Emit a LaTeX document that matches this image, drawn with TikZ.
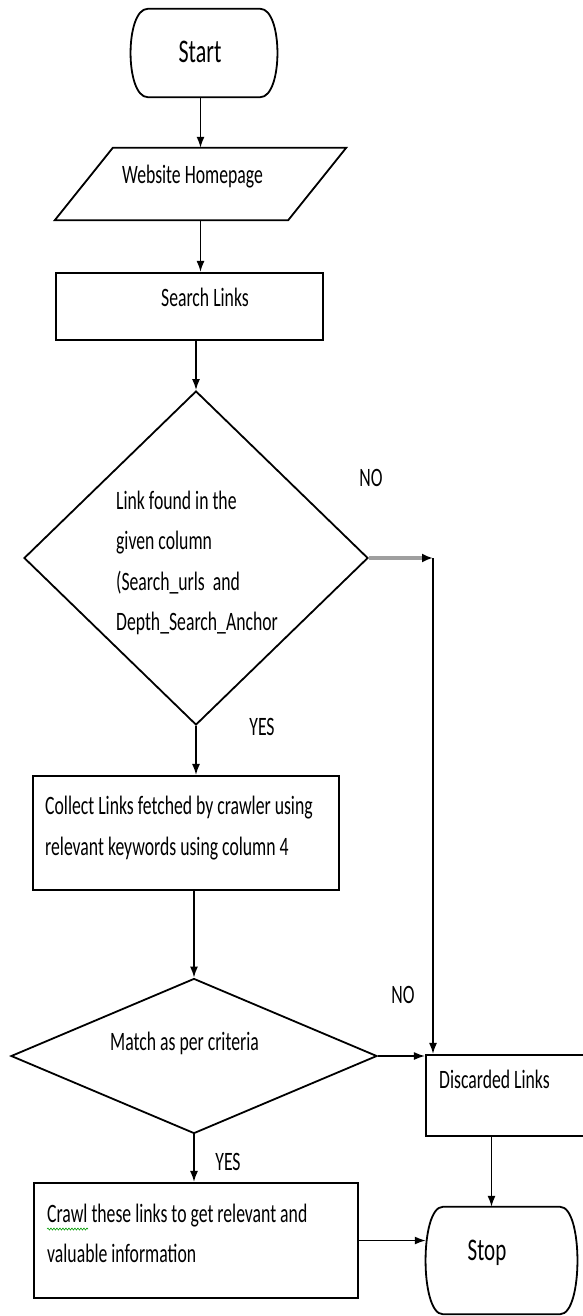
\documentclass[tikz,border=0pt]{standalone}
\usepackage{fontspec}
\setmainfont{Carlito}
\usetikzlibrary{shapes.geometric,arrows.meta,decorations.pathmorphing}
\newcommand{\stretchtxt}[1]{\scalebox{1}[1.5]{#1}}

\begin{document}
\begin{tikzpicture}[x=1pt,y=-1pt,
    holder/.style={inner sep=0pt},
    boxshape/.style={draw,line width=2.1pt,inner sep=0pt},
    decision/.style={diamond,draw,line width=1.8pt,inner sep=0pt},
    outline/.style={line width=1.8pt},
    txt/.style={inner sep=0pt,font=\fontsize{17.7}{26.7}\selectfont},
    bigtxt/.style={inner sep=0pt,font=\fontsize{22}{26}\selectfont},
    flow/.style={line width=1.6pt,-{Latex[length=11pt,width=8pt]}},
    noflow/.style={line width=3.5pt,gray!75,-{Latex[length=11pt,width=9pt,black]}}]
  \useasboundingbox (0,0) rectangle (583,1316);

  % start
  \node[holder,minimum width=146pt,minimum height=88pt] (start) at (204,53) {};
  \draw[outline] ([xshift=17]start.north west) -- ([xshift=-17]start.north east)
    .. controls ([xshift=6]start.north east) and ([xshift=6]start.south east) .. ([xshift=-17]start.south east)
    -- ([xshift=17]start.south west)
    .. controls ([xshift=-6]start.south west) and ([xshift=-6]start.north west) .. cycle;
  \node[bigtxt] (startt) at (200,52) {\stretchtxt{Start}};

  % input
  \node[holder,minimum width=233pt,minimum height=72pt] (web) at (200.5,184) {};
  \draw[outline] ([xshift=29]web.north west) -- ([xshift=29]web.north east)
    -- ([xshift=-29]web.south east) -- ([xshift=-29]web.south west) -- cycle;
  \node[txt] (webt) at (192.5,177) {\stretchtxt{Website Homepage}};

  \node[boxshape,minimum width=267pt,minimum height=67pt] (search) at (189.5,306.5) {};
  \node[txt] (searcht) at (205,297) {\stretchtxt{Search Links}};

  % first test
  \node[decision,minimum width=344pt,minimum height=334pt] (found) at (196,558) {};
  \node[txt] (foundt) at (197,562) {\stretchtxt{\begin{tabular}{@{}l@{}}Link found in the\\given column\\(Search\_urls\ \ and\\Depth\_Search\_Anchor\end{tabular}}};
  \node[txt] (no1) at (371,478) {\stretchtxt{NO}};
  \node[txt] (yes1) at (262,727) {\stretchtxt{YES}};

  \node[boxshape,minimum width=306pt,minimum height=114pt] (collect) at (186,833) {};
  \node[txt,anchor=west] (collectt) at (45,827) {\stretchtxt{\begin{tabular}{@{}l@{}}Collect Links fetched by crawler using\\relevant keywords using column 4\end{tabular}}};

  % second test
  \node[decision,minimum width=366pt,minimum height=155pt] (match) at (194,1056) {};
  \node[txt] (matcht) at (184.5,1043) {\stretchtxt{Match as per criteria}};
  \node[txt] (no2) at (403,995) {\stretchtxt{NO}};
  \node[txt] (yes2) at (228,1162) {\stretchtxt{YES}};

  \node[boxshape,minimum width=170pt,minimum height=81pt] (discard) at (511,1095.5) {};
  \node[txt,anchor=west] (discardt) at (439,1079) {\stretchtxt{Discarded Links}};

  \node[boxshape,minimum width=324pt,minimum height=115pt] (crawl) at (196,1240.5) {};
  \node[txt,anchor=west] (crawlt) at (47,1234) {\stretchtxt{\begin{tabular}{@{}l@{}}Crawl these links to get relevant and\\valuable information\end{tabular}}};
  \draw[green!60!black,line width=0.6pt,decorate,decoration={snake,amplitude=1pt,segment length=3pt}] (47,1229) -- (88,1229);

  % stop
  \node[holder,minimum width=151pt,minimum height=107pt] (stop) at (501.5,1260.5) {};
  \draw[outline] ([xshift=17]stop.north west) -- ([xshift=-17]stop.north east)
    .. controls ([xshift=6]stop.north east) and ([xshift=6]stop.south east) .. ([xshift=-17]stop.south east)
    -- ([xshift=17]stop.south west)
    .. controls ([xshift=-6]stop.south west) and ([xshift=-6]stop.north west) .. cycle;
  \node[bigtxt,font=\fontsize{21}{26}\selectfont] (stopt) at (487,1253) {\stretchtxt{Stop}};

  % connectors
  \coordinate (nojoin) at (433,558);
  \draw[flow] (web.north |- start.south) -- (web.north);
  \draw[flow] (web.south) -- (web.south |- search.north);
  \draw[flow] (found.north |- search.south) -- (found.north);
  \draw[noflow] (found.east) -- (nojoin);
  \draw[flow] (nojoin) -- (nojoin |- discard.north);
  \draw[flow] (found.south) -- (found.south |- collect.north);
  \draw[flow] (match.north |- collect.south) -- (match.north);
  \draw[flow] (match.east) -- (match.east -| discard.west);
  \draw[flow] (match.south) -- (match.south |- crawl.north);
  \draw[flow] ([xshift=-10]stop.north |- discard.south) -- ([xshift=-10]stop.north);
  \draw[flow] (crawl.east) -- (crawl.east -| stop.west);
\end{tikzpicture}
\end{document}
